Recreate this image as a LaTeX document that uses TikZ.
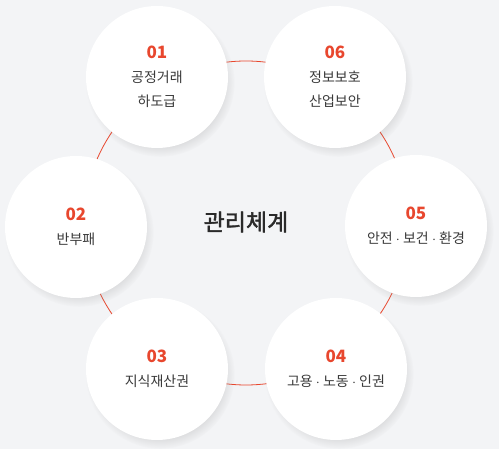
\documentclass[tikz,border=0pt]{standalone}
\usepackage{fontspec}
\setmainfont{Noto Sans CJK KR}
\newfontfamily\titlefont[FakeBold=1.6]{Noto Sans CJK KR}
\usetikzlibrary{shadows}

\definecolor{pagebg}{HTML}{F3F4F6}
\definecolor{accent}{HTML}{E8472E}
\definecolor{labelgray}{HTML}{3A3A3A}
\definecolor{titlegray}{HTML}{2A2A2A}

\tikzset{
  item/.style={circle, fill=white, minimum size=142pt, inner sep=0pt, align=center,
    text=labelgray, font=\fontsize{14pt}{24pt}\selectfont,
    circular drop shadow={shadow xshift=3pt, shadow yshift=-5pt, shadow scale=1.05, opacity=0.2}},
  ring/.style={draw=accent, line width=0.8pt},
}
\newcommand{\itemno}[1]{{\fontsize{17pt}{20pt}\selectfont\bfseries\color{accent}#1}}

\begin{document}
\begin{tikzpicture}[x=1pt, y=1pt,
  title/.style={font=\titlefont\fontsize{23pt}{26pt}\selectfont, text=titlegray}
]
  \fill[pagebg] (-246,-225) rectangle (253,224);
  \useasboundingbox (-246,-225) rectangle (253,224);

  % centre and ring
  \coordinate (mid) at (0,1);
  \draw[ring] (mid) circle (162);
  \node[title] (center) at (0,2) {관리체계};

  % six items
  \node[item] (fair) at (-89,147) {\itemno{01}\\공정거래\\하도급};
  \node[item] (anti) at (-170,-3) {\itemno{02}\\반부패};
  \node[item] (ip) at (-89,-145) {\itemno{03}\\지식재산권};
  \node[item] (labor) at (90,-145) {\itemno{04}\\고용 $\cdot$ 노동 $\cdot$ 인권};
  \node[item] (safety) at (170,-2) {\itemno{05}\\안전 $\cdot$ 보건 $\cdot$ 환경};
  \node[item] (infosec) at (89,147) {\itemno{06}\\정보보호\\산업보안};
\end{tikzpicture}
\end{document}
